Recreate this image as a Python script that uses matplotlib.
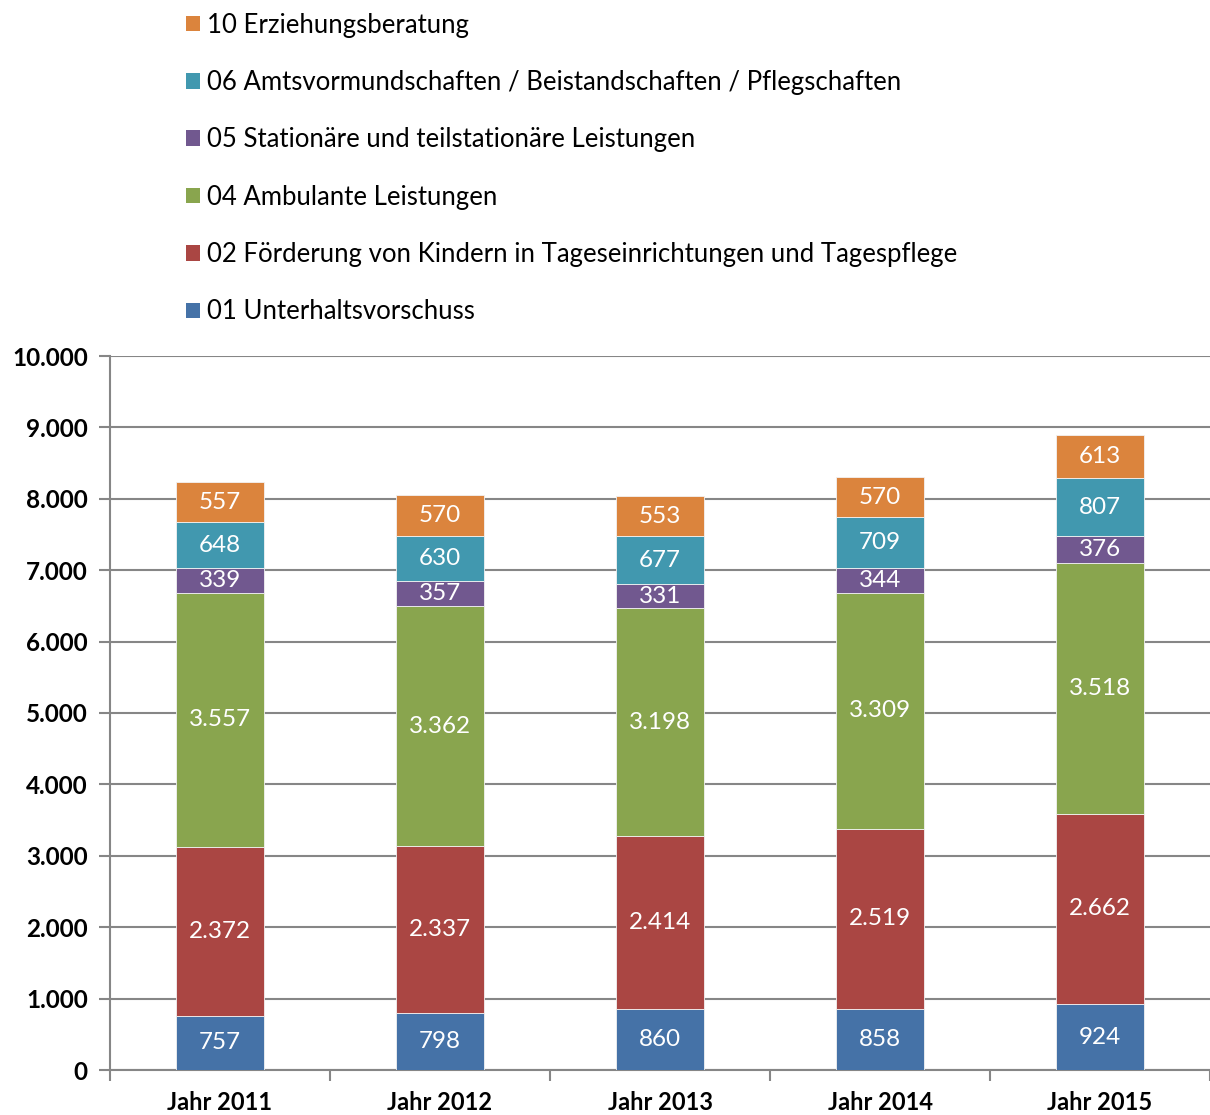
import matplotlib
matplotlib.use("Agg")
import matplotlib.pyplot as plt
import numpy as np
from matplotlib.patches import Patch

plt.rcParams['font.family'] = ['Lato', 'DejaVu Sans']

years = ["Jahr 2011", "Jahr 2012", "Jahr 2013", "Jahr 2014", "Jahr 2015"]
series_names = [
    "01 Unterhaltsvorschuss",
    "02 Förderung von Kindern in Tageseinrichtungen und Tagespflege",
    "04 Ambulante Leistungen",
    "05 Stationäre und teilstationäre Leistungen",
    "06 Amtsvormundschaften / Beistandschaften / Pflegschaften",
    "10 Erziehungsberatung",
]
s01 = [757, 798, 860, 858, 924]
s02 = [2372, 2337, 2414, 2519, 2662]
s04 = [3557, 3362, 3198, 3309, 3518]
s05 = [339, 357, 331, 344, 376]
s06 = [648, 630, 677, 709, 807]
s10 = [557, 570, 553, 570, 613]
colors = ["#4572A7", "#AA4643", "#89A54E", "#71588F", "#4198AF", "#DB843D"]
yticks = [0, 1000, 2000, 3000, 4000, 5000, 6000, 7000, 8000, 9000, 10000]
ytick_labels = ["0", "1.000", "2.000", "3.000", "4.000", "5.000", "6.000",
                "7.000", "8.000", "9.000", "10.000"]

def fmt(v):
    return f"{v:,}".replace(",", ".")

fig = plt.figure(figsize=(12.1, 11.15), dpi=100)
ax = fig.add_axes([110/1210, 45/1115, 1100/1210, 714/1115])

x = np.arange(len(years))
bottom = np.zeros(len(years))
handles = []
for name, vals, col in zip(series_names, [s01, s02, s04, s05, s06, s10], colors):
    vals = np.array(vals, dtype=float)
    ax.bar(x, vals, 0.4, bottom=bottom, color=col, edgecolor="#F2F2F2",
           linewidth=0.6, zorder=3, label=name)
    for xi, b, v in zip(x, bottom, vals):
        ax.text(xi, b + v / 2, fmt(int(v)), ha="center", va="center",
                color="white", fontsize=17.5, zorder=4)
    bottom += vals
    handles.append(Patch(facecolor=col, label=name))

ax.set_xlim(-0.5, 4.5)
ax.set_ylim(0, 10000)
ax.set_yticks(yticks)
ax.set_yticklabels(ytick_labels, fontsize=17.5, fontweight="bold")
ax.set_xticks(x)
ax.set_xticklabels(years, fontsize=17, fontweight="bold")
ax.tick_params(axis="x", length=0, pad=15)
ax.set_xticks(np.arange(-0.5, 5.0, 1.0), minor=True)
ax.tick_params(axis="x", which="minor", length=8, width=1.5, color="#868686")
ax.tick_params(axis="y", length=8, width=1.5, color="#868686", pad=8)
ax.grid(axis="y", color="#868686", linewidth=1.5, zorder=0)
for s in ["top", "right"]:
    ax.spines[s].set_visible(False)
ax.spines["left"].set_color("#868686")
ax.spines["left"].set_linewidth(1.5)
ax.spines["bottom"].set_color("#868686")
ax.spines["bottom"].set_linewidth(1.5)

fig.legend(handles=handles[::-1], loc="upper left",
           bbox_to_anchor=(165/1210, 1 + 8/1115), frameon=False,
           fontsize=18.5, handlelength=0.55, handleheight=0.55,
           handletextpad=0.3, labelspacing=1.26, borderpad=0.3)

fig.savefig("out.png", dpi=100)
